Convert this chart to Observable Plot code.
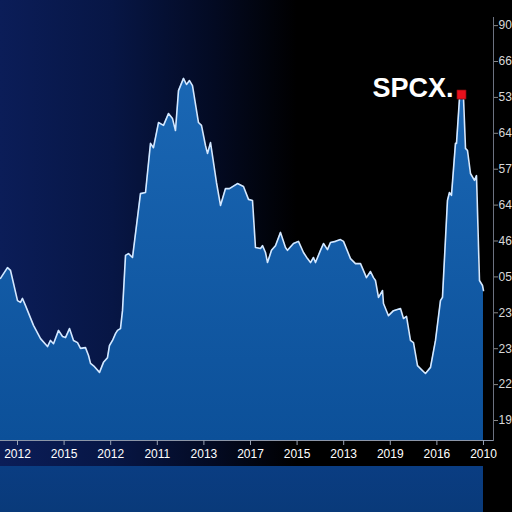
<!DOCTYPE html>
<html>
<head>
<meta charset="utf-8">
<script src="https://cdn.jsdelivr.net/npm/d3@7"></script>
<script src="https://cdn.jsdelivr.net/npm/@observablehq/plot@0.6"></script>
<style>
  html, body { margin: 0; padding: 0; background: #000; }
  #chart {
    width: 512px; height: 512px; position: relative; overflow: hidden;
    background:
      linear-gradient(to bottom, #0a3d82, #093a7a) 0 466px / 483px 46px no-repeat,
      linear-gradient(to right, #0b1d58 0%, #071645 22%, #030a22 42%, #000 58%);
  }
  #chart svg { display: block; font-family: "Liberation Sans", Arial, sans-serif; }
</style>
</head>
<body>
<div id="chart"></div>
<script>
// Tick labels (as printed in the reference)
const xTickValues = [0, 10, 20, 30, 40, 50, 60, 70, 80, 90, 100];
const xTickLabels = ["2012", "2015", "2012", "2011", "2013", "2017", "2015", "2013", "2019", "2016", "2010"];
const yTickValues = [0, 10, 20, 30, 40, 50, 60, 70, 80, 90, 100, 110];
const yTickLabels = ["19", "22", "23", "23", "05", "46", "64", "57", "64", "53", "66", "90"];

// Series (period index, value in axis units)
const period = [-3.65, -2.15, -1.5, 0, 0.64, 1.07, 1.72, 3.43, 4.94, 6.44, 7.08, 7.73, 8.8, 9.66, 10.3, 11.16, 12.02, 12.88, 13.52, 14.59,
  15.24, 15.67, 16.52, 17.6, 18.45, 19.31, 19.74, 20.39, 21.03, 21.46, 22.1, 22.53, 23.18, 23.82, 24.68, 26.39, 27.47, 28.54, 29.18, 30.26,
  31.33, 32.4, 33.26, 33.9, 34.55, 35.62, 36.27, 36.91, 37.55, 38.84, 39.48, 40.34, 40.77, 41.42, 42.7, 43.56, 44.64, 45.49, 47.21, 48.5,
  49.57, 50.43, 51.07, 52.15, 52.58, 53.22, 53.65, 54.51, 55.36, 56.44, 57.51, 57.94, 59.23, 60.3, 61.37, 62.23, 62.88, 63.52, 63.95, 65.02,
  65.67, 66.52, 67.17, 68.24, 69.31, 69.96, 71.46, 72.53, 73.61, 74.89, 75.75, 76.39, 76.82, 77.47, 78.33, 78.54, 79.61, 80.69, 82.19, 82.83,
  83.48, 84.33, 84.98, 85.84, 86.91, 87.55, 88.63, 89.7, 90.77, 91.2, 92.27, 92.7, 93.13, 93.99, 94.21, 94.85, 95.28, 95.71, 96.14, 96.57,
  97.21, 98.07, 98.5, 99.14, 99.79, 100];
const value = [39.6, 42.6, 41.8, 33.4, 32.9, 34.0, 32.0, 26.5, 22.8, 20.6, 22.3, 21.4, 25.1, 23.4, 23.1, 25.6, 22.3, 21.7, 20.1, 20.3,
  18.1, 15.9, 15.0, 13.4, 16.2, 17.5, 20.9, 22.3, 24.2, 25.1, 25.6, 30.6, 46.0, 46.5, 45.4, 63.2, 63.5, 77.2, 76.0, 83.0,
  82.2, 85.5, 84.1, 80.8, 91.9, 95.3, 93.6, 94.7, 93.3, 83.0, 82.2, 76.6, 74.4, 77.4, 66.3, 59.9, 64.6, 64.6, 66.0, 65.2,
  61.6, 61.3, 48.2, 47.9, 48.7, 46.8, 44.0, 47.4, 48.7, 52.4, 48.2, 47.4, 49.3, 49.9, 46.8, 45.1, 44.0, 45.4, 44.0, 47.4,
  49.3, 47.6, 49.6, 49.9, 50.4, 49.9, 45.1, 43.7, 43.7, 39.8, 41.5, 39.8, 39.0, 34.3, 36.2, 32.6, 29.2, 30.6, 31.2, 28.4,
  29.0, 22.3, 21.7, 15.3, 13.9, 13.1, 14.8, 22.3, 33.4, 34.3, 61.3, 63.5, 62.7, 77.2, 77.2, 89.7, 90.8, 90.0, 75.8, 75.2,
  68.8, 66.9, 68.2, 39.0, 37.6, 36.2];
const seriesLabel = "SPCX.";
const markerFrom = 90; // the marked (latest) peak lies after this period

const data = period.map((p, i) => ({period: p, value: value[i]}));
const peak = data.filter((d) => d.period > markerFrom).reduce((a, b) => (b.value > a.value ? b : a));

const xDomain = [-3.65, 102.15];
const yDomain = [-5.57, 112.26];

const chart = Plot.plot({
  width: 512,
  height: 512,
  marginTop: 17,
  marginRight: 19,
  marginBottom: 72,
  marginLeft: 0,
  style: {background: "transparent", overflow: "visible"},
  x: {domain: xDomain, label: null},
  y: {domain: yDomain, label: null},
  marks: [
    Plot.areaY(data, {x: "period", y1: yDomain[0], y2: "value", fill: "url(#areaGrad)"}),
    Plot.lineY(data, {x: "period", y: "value", stroke: "#d4e8ff", strokeWidth: 1.6, strokeLinejoin: "round"}),
    Plot.frame({anchor: "bottom", stroke: "#8c96a8", strokeWidth: 1}),
    Plot.frame({anchor: "right", stroke: "#6c7280", strokeWidth: 1}),
    Plot.axisX({ticks: xTickValues, tickFormat: (d) => xTickLabels[xTickValues.indexOf(d)], label: null,
      tickSize: 5, tickPadding: 4, fontSize: 12, color: "#ffffff", stroke: "#9aa4b6"}),
    Plot.axisY({anchor: "right", ticks: yTickValues, tickFormat: (d) => yTickLabels[yTickValues.indexOf(d)], label: null,
      tickSize: 4, tickPadding: 1, fontSize: 12, color: "#d8d8d8", stroke: "#888"}),
    Plot.dot([peak], {x: "period", y: "value", symbol: "square", r: 5.2, fill: "#e8101c", stroke: "#5a0a0a", strokeWidth: 0.6}),
    Plot.text([peak], {x: "period", y: "value", text: () => seriesLabel, textAnchor: "end", dx: -8, dy: -6,
      fontSize: 27, fontWeight: "bold", fill: "#ffffff", fontFamily: "Liberation Sans, Arial, sans-serif"})
  ]
});

const defs = d3.select(chart).insert("defs", ":first-child");
const g = defs.append("linearGradient").attr("id", "areaGrad").attr("x1", 0).attr("y1", 0).attr("x2", 0).attr("y2", 1);
g.append("stop").attr("offset", "0%").attr("stop-color", "#1a67b4");
g.append("stop").attr("offset", "100%").attr("stop-color", "#0c5099");

document.getElementById("chart").appendChild(chart);
</script>
</body>
</html>
